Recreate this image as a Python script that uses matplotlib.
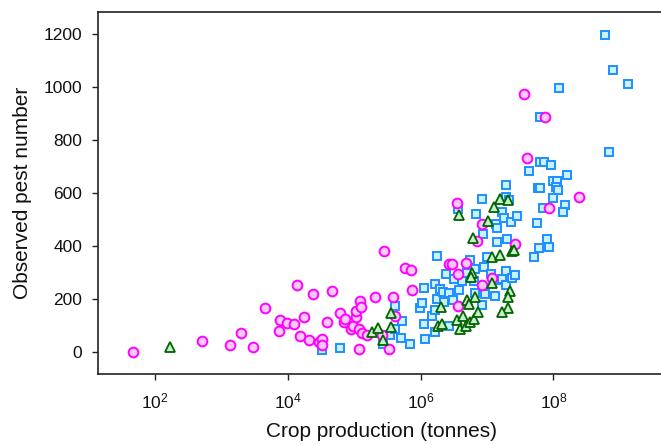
import matplotlib
matplotlib.use("Agg")
import matplotlib.pyplot as plt
import numpy as np

plt.rcParams['font.family'] = ['Liberation Sans', 'DejaVu Sans']
plt.rcParams['mathtext.fontset'] = 'custom'
plt.rcParams['mathtext.rm'] = 'Liberation Sans'
plt.rcParams['mathtext.it'] = 'Liberation Sans:italic'
plt.rcParams['mathtext.bf'] = 'Liberation Sans:bold'

# Magenta circles: crop production (tonnes), observed pest number
circ_prod = [46, 510, 1350, 2000, 2950, 4470, 7400, 7760, 9800, 12600,
             13800, 15500, 17600, 20900, 24000, 29500, 33100, 32400, 38900, 46800,
             61700, 69200, 72400, 89100, 95500, 107000, 105000, 123000, 126000, 117000,
             129000, 155000, 117000, 209000, 282000, 380000, 331000, 407000, 575000, 708000,
             741000, 263000, 2.69e6, 3.02e6, 4.90e6, 3.63e6, 8.51e6, 1.17e7, 3.63e6, 7.08e6,
             2.63e7, 3.98e7, 3.55e6, 2.45e8, 8.71e7, 8.51e6, 3.55e7, 7.59e7]
circ_pest = [0, 40, 26, 73, 18, 165, 79, 120, 109, 107,
             254, 62, 133, 46, 218, 39, 49, 26, 114, 230,
             146, 113, 126, 87, 99, 131, 156, 194, 169, 88,
             73, 63, 10, 206, 382, 208, 11, 137, 318, 308,
             235, 66, 331, 331, 335, 293, 254, 278, 174, 420,
             408, 731, 563, 584, 545, 482, 972, 888]

# Blue squares
sq_prod = [33100, 60300, 275000, 347000, 407000, 407000, 525000, 513000, 692000, 977000,
           1.05e6, 1.12e6, 1.12e6, 1.15e6, 1.48e6, 1.62e6, 1.66e6, 1.74e6, 1.78e6, 1.66e6,
           1.95e6, 2.14e6, 2.24e6, 2.45e6, 2.69e6, 2.69e6, 3.09e6, 3.24e6, 3.80e6, 3.72e6,
           4.17e6, 5.01e6, 5.62e6, 6.31e6, 6.61e6, 6.61e6, 6.76e6, 8.32e6, 8.51e6, 8.71e6,
           8.91e6, 9.33e6, 1.0e7, 1.15e7, 1.26e7, 1.32e7, 1.38e7, 1.41e7, 1.41e7, 1.51e7,
           1.70e7, 1.70e7, 1.82e7, 1.91e7, 1.91e7, 1.95e7, 1.95e7, 2.0e7, 2.14e7, 2.29e7,
           2.34e7, 2.63e7, 2.82e7, 4.27e7, 5.13e7, 5.75e7, 6.03e7, 5.89e7, 6.31e7, 6.31e7,
           7.24e7, 6.31e7, 6.92e7, 8.13e7, 8.51e7, 9.12e7, 9.77e7, 1.15e8, 1.10e8, 1.17e8,
           9.77e7, 1.23e8, 1.48e8, 1.41e8, 1.58e8, 6.03e8, 6.92e8, 7.76e8, 1.32e9]
sq_pest = [8, 14, 31, 63, 175, 85, 116, 54, 30, 165,
           184, 243, 104, 50, 134, 75, 255, 361, 199, 158,
           238, 228, 190, 296, 224, 100, 197, 274, 234, 538,
           268, 298, 347, 269, 312, 221, 520, 176, 579, 445,
           320, 219, 357, 294, 273, 211, 483, 467, 414, 270,
           275, 530, 505, 630, 586, 304, 251, 428, 572, 490,
           280, 292, 513, 683, 359, 485, 394, 619, 617, 718,
           716, 885, 545, 428, 398, 704, 645, 645, 623, 610,
           580, 997, 553, 527, 667, 1197, 755, 1064, 1011]

# Green triangles
tri_prod = [168, 186000, 229000, 355000, 355000, 269000, 2.04e6, 1.82e6, 2.09e6, 3.55e6,
            4.37e6, 3.89e6, 4.79e6, 5.50e6, 6.31e6, 7.24e6, 5.01e6, 5.37e6, 6.61e6, 5.89e6,
            5.75e6, 1.17e7, 1.20e7, 1.58e7, 6.17e6, 1.02e7, 2.34e7, 2.57e7, 2.24e7, 2.04e7,
            2.09e7, 1.66e7, 1.55e7, 2.04e7, 1.29e7, 3.80e6]
tri_pest = [20, 77, 92, 147, 93, 45, 170, 98, 104, 119,
            136, 87, 98, 114, 123, 151, 196, 180, 207, 297,
            282, 259, 360, 366, 430, 494, 381, 385, 229, 206,
            165, 151, 576, 574, 546, 518]

y_ticks = [0, 200, 400, 600, 800, 1000, 1200]
x_ticks = [1e2, 1e4, 1e6, 1e8]
x_tick_labels = [r'$10^{2}$', r'$10^{4}$', r'$10^{6}$', r'$10^{8}$']

W, H = 661, 445
fig = plt.figure(figsize=(W / 100, H / 100), dpi=100)
ax = fig.add_axes([98 / W, (H - 374) / H, (W + 4 - 98) / W, (374 - 12) / H])

ax.plot(sq_prod, sq_pest, linestyle='none', marker='s', markersize=6,
        markeredgewidth=1.4, markeredgecolor='#1E8FFF', markerfacecolor='#C8F2FF', zorder=3)
ax.plot(circ_prod, circ_pest, linestyle='none', marker='o', markersize=7,
        markeredgewidth=1.4, markeredgecolor='#FF00FF', markerfacecolor='#FFC8FF', zorder=4)
ax.plot(tri_prod, tri_pest, linestyle='none', marker='^', markersize=7.5,
        markeredgewidth=1.3, markeredgecolor='#006400', markerfacecolor='#C8F0C8', zorder=5)

ax.set_xscale('log')
ax.set_xlim(10 ** 1.143, 10 ** 9.68)
ax.set_ylim(-83, 1283)
ax.set_xticks(x_ticks)
ax.set_xticklabels(x_tick_labels)
ax.xaxis.set_minor_locator(matplotlib.ticker.NullLocator())
ax.set_yticks(y_ticks)
ax.set_yticklabels([str(v) for v in y_ticks])

for s in ['left', 'bottom', 'top']:
    ax.spines[s].set_linewidth(1.2)
    ax.spines[s].set_color('#222222')
ax.spines['right'].set_visible(False)

ax.tick_params(axis='both', direction='out', length=4.5, width=1.0, color='#222222',
               labelsize=12.5, labelcolor='#111111')
ax.tick_params(axis='y', pad=7)
ax.tick_params(axis='x', pad=8)

ax.set_xlabel('Crop production (tonnes)', fontsize=15, color='#111111', labelpad=8)
ax.set_ylabel('Observed pest number', fontsize=15, color='#111111', labelpad=8)

fig.savefig('out.png', dpi=100)
